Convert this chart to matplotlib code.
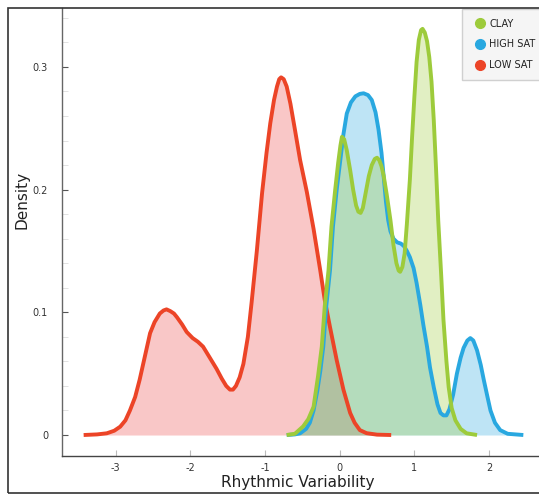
import matplotlib.pyplot as plt
from matplotlib.patches import Rectangle
from matplotlib.lines import Line2D
from matplotlib.ticker import MultipleLocator

plt.rcParams['axes.unicode_minus'] = False

# density curves, sampled points
low_x = [-3.43, -3.25, -3.12, -3.02, -2.94, -2.87, -2.81, -2.74, -2.68, -2.61, -2.54, -2.48,
         -2.41, -2.36, -2.32, -2.27, -2.22, -2.18, -2.11, -2.05, -1.97, -1.90, -1.83, -1.76,
         -1.65, -1.58, -1.52, -1.47, -1.43, -1.39, -1.34, -1.29, -1.23, -1.18, -1.11, -1.04,
         -0.98, -0.93, -0.88, -0.84, -0.81, -0.785, -0.75, -0.71, -0.66, -0.60, -0.53, -0.44,
         -0.35, -0.26, -0.20, -0.13, -0.04, 0.05, 0.14, 0.20, 0.27, 0.36, 0.50, 0.69]
low_y = [0.0, 0.0005, 0.0014, 0.0035, 0.0068, 0.012, 0.020, 0.031, 0.045, 0.064, 0.083, 0.092,
         0.099, 0.1015, 0.1024, 0.101, 0.099, 0.096, 0.090, 0.084, 0.079, 0.076, 0.072, 0.065,
         0.054, 0.046, 0.040, 0.037, 0.037, 0.040, 0.047, 0.058, 0.080, 0.108, 0.150, 0.197,
         0.230, 0.254, 0.273, 0.284, 0.290, 0.2915, 0.290, 0.284, 0.270, 0.249, 0.224, 0.198,
         0.168, 0.134, 0.110, 0.088, 0.061, 0.037, 0.018, 0.010, 0.004, 0.0015, 0.0003, 0.0]

high_x = [-0.71, -0.60, -0.53, -0.45, -0.40, -0.35, -0.30, -0.26, -0.22, -0.18, -0.13, -0.09,
          -0.04, 0.01, 0.05, 0.095, 0.15, 0.21, 0.27, 0.32, 0.38, 0.43, 0.48, 0.52, 0.56, 0.59,
          0.62, 0.65, 0.68, 0.72, 0.77, 0.82, 0.86, 0.90, 0.94, 0.99, 1.03, 1.08, 1.12, 1.17,
          1.21, 1.26, 1.31, 1.35, 1.39, 1.43, 1.47, 1.52, 1.57, 1.62, 1.66, 1.71, 1.75, 1.79,
          1.84, 1.89, 1.93, 1.98, 2.02, 2.08, 2.15, 2.25, 2.46]
high_y = [0.0, 0.0005, 0.0014, 0.005, 0.010, 0.020, 0.036, 0.052, 0.072, 0.105, 0.134, 0.170,
          0.200, 0.225, 0.245, 0.262, 0.271, 0.276, 0.278, 0.2785, 0.277, 0.273, 0.263, 0.249,
          0.230, 0.210, 0.190, 0.175, 0.166, 0.160, 0.157, 0.156, 0.154, 0.150, 0.145, 0.136,
          0.124, 0.106, 0.090, 0.072, 0.055, 0.039, 0.025, 0.018, 0.016, 0.016, 0.021, 0.033,
          0.050, 0.063, 0.071, 0.077, 0.079, 0.077, 0.069, 0.057, 0.045, 0.031, 0.020, 0.010,
          0.004, 0.001, 0.0]

clay_x = [-0.71, -0.60, -0.49, -0.42, -0.35, -0.29, -0.24, -0.20, -0.15, -0.11, -0.06, -0.02,
          0.01, 0.03, 0.06, 0.095, 0.14, 0.18, 0.22, 0.25, 0.28, 0.31, 0.35, 0.39, 0.43, 0.47,
          0.50, 0.53, 0.56, 0.59, 0.63, 0.68, 0.72, 0.76, 0.79, 0.81, 0.84, 0.87, 0.90, 0.94,
          0.97, 1.00, 1.03, 1.06, 1.09, 1.11, 1.14, 1.17, 1.20, 1.23, 1.26, 1.29, 1.32, 1.36,
          1.39, 1.43, 1.46, 1.50, 1.55, 1.62, 1.70, 1.84]
clay_y = [0.0, 0.001, 0.007, 0.013, 0.023, 0.048, 0.072, 0.105, 0.134, 0.170, 0.200, 0.222,
          0.236, 0.243, 0.241, 0.232, 0.216, 0.200, 0.187, 0.182, 0.181, 0.185, 0.198, 0.211,
          0.220, 0.225, 0.226, 0.224, 0.219, 0.211, 0.196, 0.175, 0.155, 0.140, 0.134, 0.133,
          0.137, 0.148, 0.172, 0.208, 0.243, 0.275, 0.304, 0.322, 0.330, 0.331, 0.328, 0.321,
          0.308, 0.288, 0.257, 0.218, 0.175, 0.130, 0.094, 0.060, 0.039, 0.022, 0.012, 0.005,
          0.0014, 0.0]

groups = ['CLAY', 'HIGH SAT', 'LOW SAT']
colors = {'CLAY': '#9dcb3b', 'HIGH SAT': '#29a8e0', 'LOW SAT': '#ec4427'}
fills = {'CLAY': '#9dcb3b', 'HIGH SAT': '#29a8e0', 'LOW SAT': '#ee4646'}

W, H = 539, 495
fig = plt.figure(figsize=(W / 100, H / 100), dpi=100)
fig.patch.set_facecolor('white')

# axes box in pixels: left 62, right 539, top 8, bottom 456
ax = fig.add_axes([62 / W, (H - 456) / H, (W - 62) / W, (456 - 8) / H])

series = [('LOW SAT', low_x, low_y), ('HIGH SAT', high_x, high_y), ('CLAY', clay_x, clay_y)]
for name, xs, ys in series:
    ax.fill_between(xs, ys, 0, color=fills[name], alpha=0.3, linewidth=0)
for name, xs, ys in series:
    ax.plot(xs, ys, color=colors[name], lw=2.8, solid_joinstyle='round', solid_capstyle='butt')

ax.set_xlim(-3.72, 2.67)
ax.set_ylim(-0.0171, 0.348)
ax.set_xticks([-3, -2, -1, 0, 1, 2])
ax.set_yticks([0, 0.1, 0.2, 0.3])
ax.set_yticklabels(['0', '0.1', '0.2', '0.3'])
ax.yaxis.set_minor_locator(MultipleLocator(0.02))
ax.tick_params(axis='both', labelsize=7, colors='#333333')
ax.tick_params(axis='y', which='major', direction='in', length=4, color='#555555', pad=10)
ax.tick_params(axis='y', which='minor', direction='in', length=4, color='#dddddd')
ax.tick_params(axis='x', which='major', direction='in', length=4, color='#bbbbbb', pad=5)

for side in ['top', 'right']:
    ax.spines[side].set_visible(False)
ax.spines['left'].set_color('#666666')
ax.spines['bottom'].set_color('#444444')
ax.spines['left'].set_linewidth(1.0)
ax.spines['bottom'].set_linewidth(1.0)

fig.text(22 / W, 1 - 200 / H, 'Density', rotation=90, ha='center', va='center',
         fontsize=11, color='#222222')
fig.text(298 / W, 1 - 483 / H, 'Rhythmic Variability', ha='center', va='center',
         fontsize=11, color='#222222')

handles = [Line2D([], [], marker='o', ls='', markersize=7, color=colors[g]) for g in groups]
leg = ax.legend(handles, groups, loc='upper left', bbox_to_anchor=(462 / W, 1 - 9 / H),
                bbox_transform=fig.transFigure, fontsize=7, frameon=True, fancybox=False,
                handletextpad=0.2, borderpad=1.0, labelspacing=1.1, handlelength=1.6,
                borderaxespad=0)
leg.get_frame().set_facecolor('#f5f5f5')
leg.get_frame().set_edgecolor('#d0d0d0')
leg.get_frame().set_alpha(1)
for t in leg.get_texts():
    t.set_color('#222222')

# outer frame
fig.add_artist(Rectangle((8 / W, 1 - 493 / H), 1.0, (493 - 8) / H, transform=fig.transFigure,
                         fill=False, edgecolor='#333333', lw=1.2, clip_on=False))

fig.savefig('out.png', dpi=100)
